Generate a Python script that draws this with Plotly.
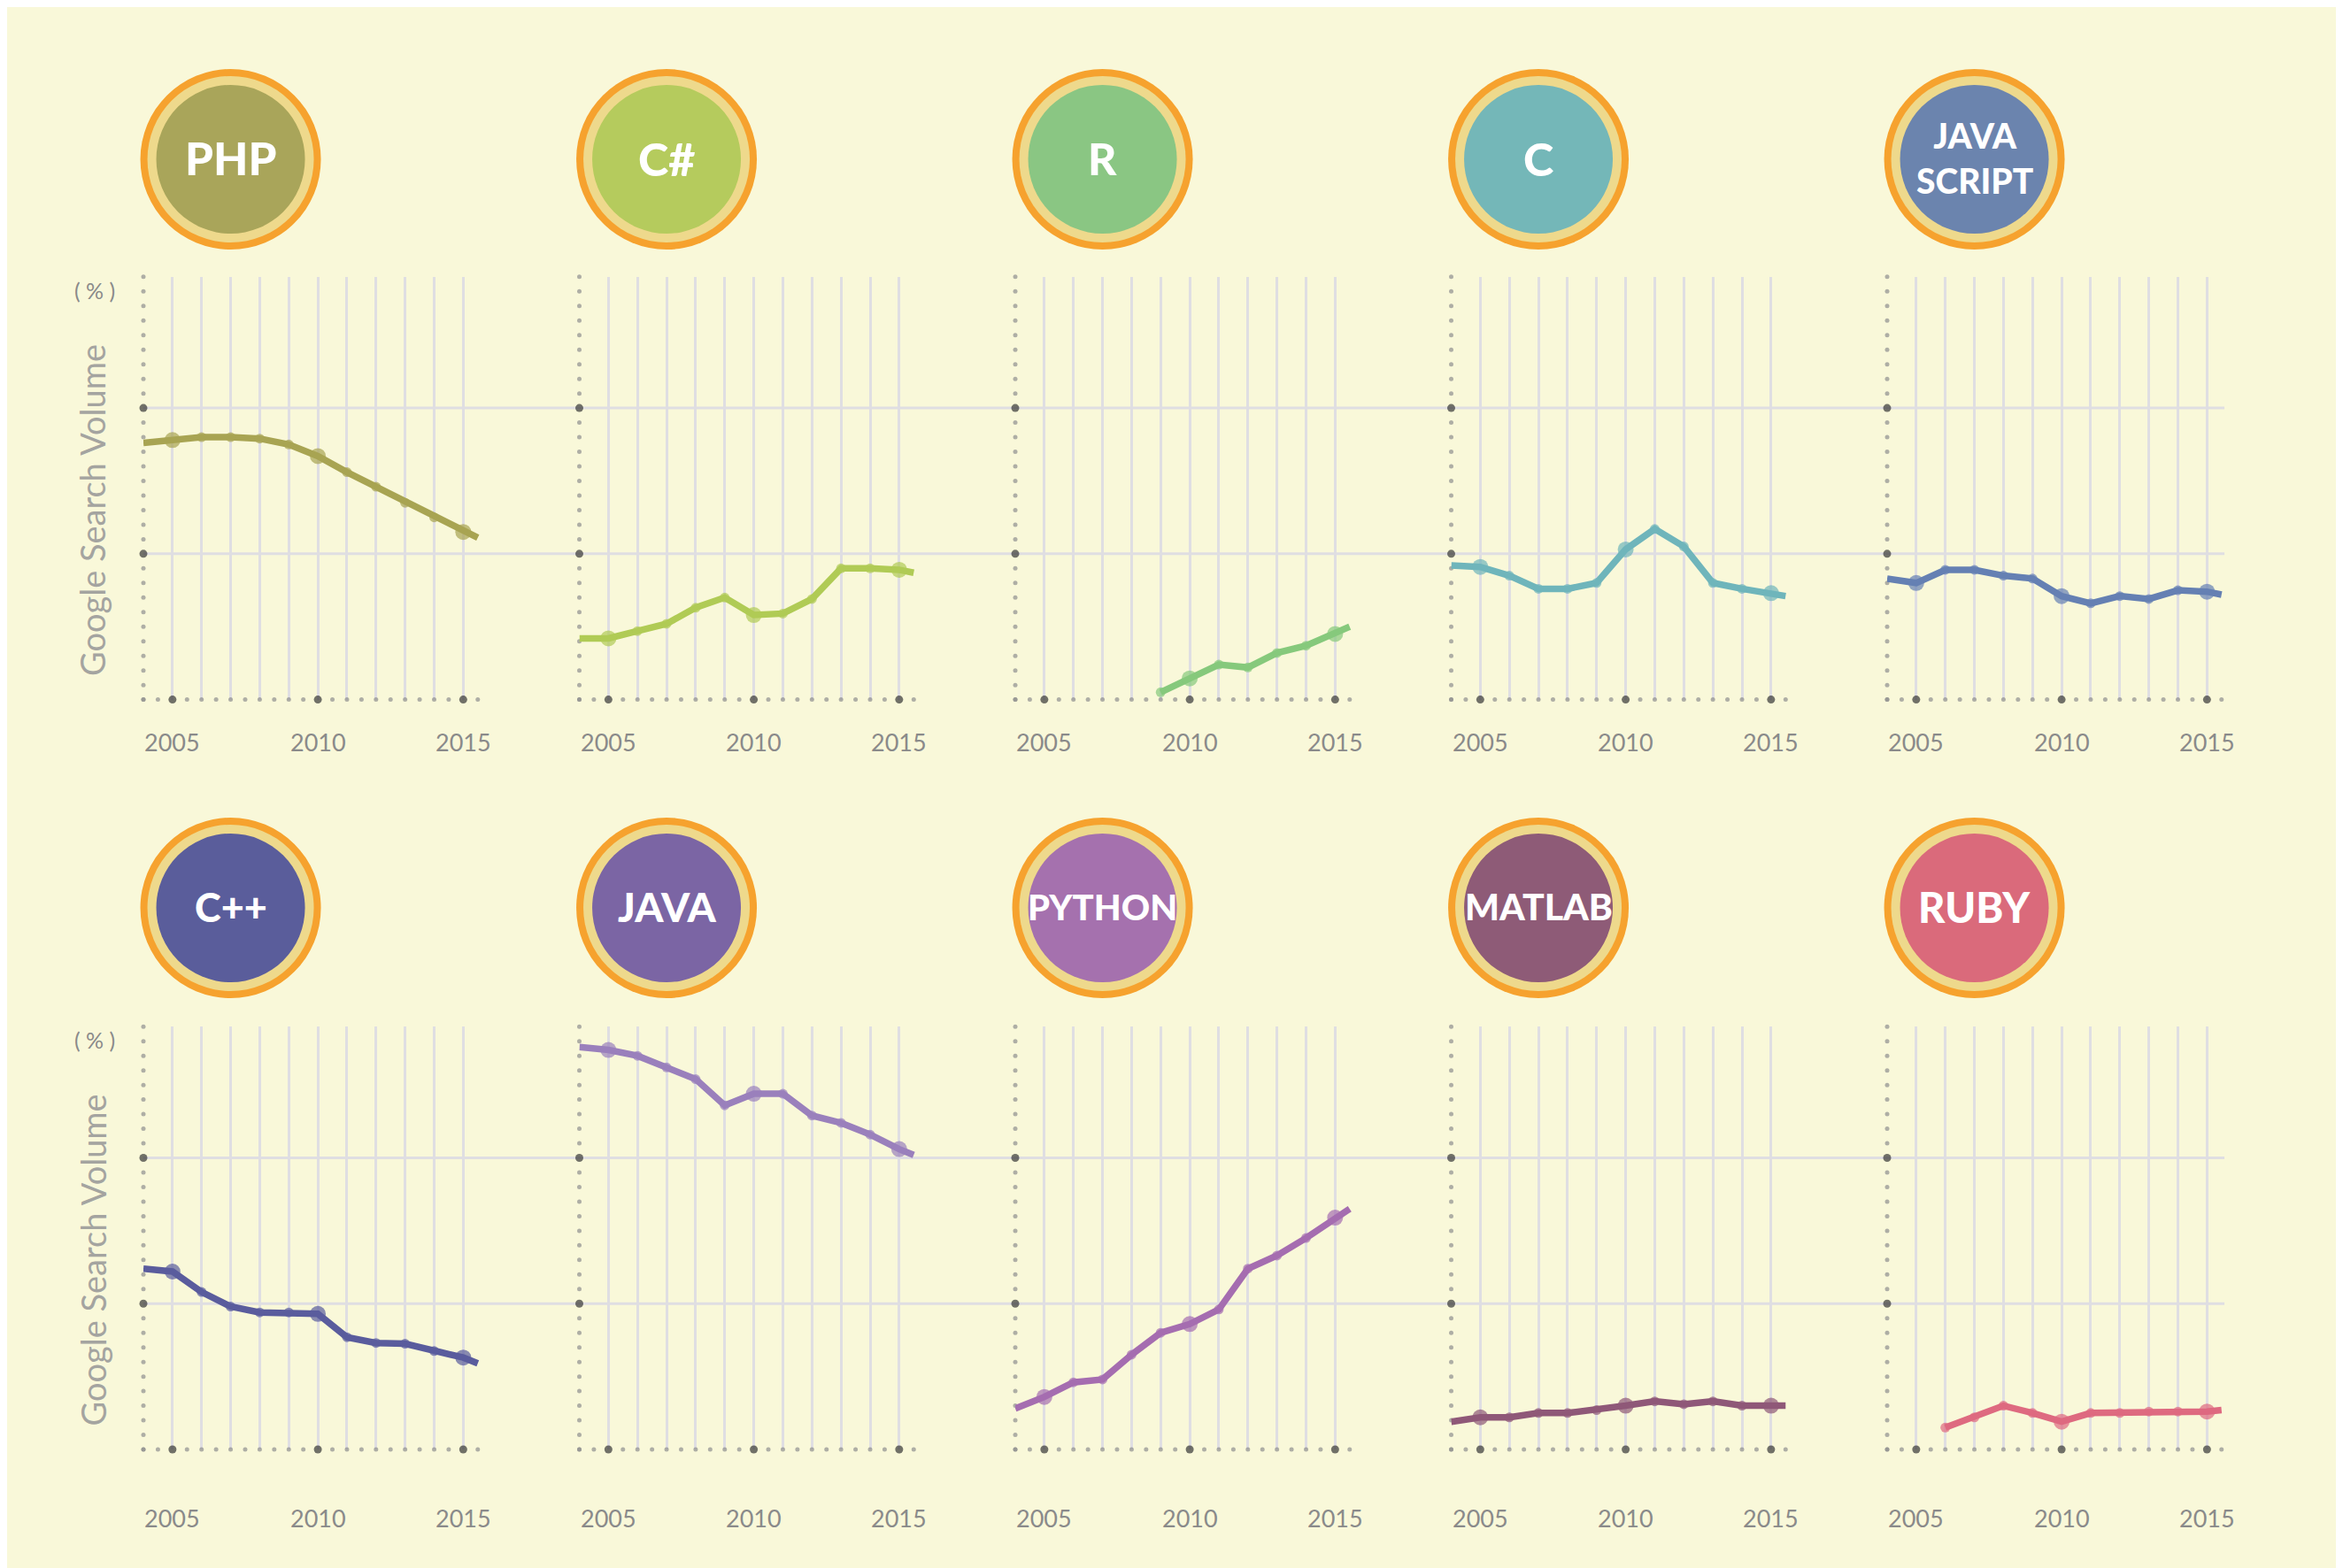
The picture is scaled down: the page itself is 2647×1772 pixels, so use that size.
import numpy as np
import plotly.graph_objects as go

# ---------------- data ----------------
YEARS = [2004, 2005, 2006, 2007, 2008, 2009, 2010, 2011, 2012, 2013, 2014, 2015, 2015.5]
LANGUAGES = ["PHP", "C#", "R", "C", "JAVASCRIPT", "C++", "JAVA", "PYTHON", "MATLAB", "RUBY"]

PHP = [17.6, 17.8, 18.0, 18.0, 17.9, 17.5, 16.7, 15.6, 14.6, 13.5, 12.5, 11.5, 11.1]
CSHARP = [4.2, 4.2, 4.7, 5.2, 6.3, 7.0, 5.8, 5.9, 6.9, 9.0, 9.0, 8.9, 8.7]
R_LANG = [None, None, None, None, None, 0.5, 1.45, 2.4, 2.2, 3.2, 3.7, 4.5, 5.0]
C_LANG = [9.2, 9.1, 8.5, 7.6, 7.6, 8.0, 10.3, 11.7, 10.5, 8.0, 7.6, 7.3, 7.1]
JAVASCRIPT = [8.3, 8.0, 8.9, 8.9, 8.5, 8.3, 7.1, 6.6, 7.1, 6.9, 7.5, 7.4, 7.2]
CPP = [12.4, 12.2, 10.8, 9.8, 9.4, 9.4, 9.3, 7.7, 7.3, 7.25, 6.75, 6.3, 5.9]
JAVA = [27.6, 27.4, 27.0, 26.2, 25.4, 23.6, 24.4, 24.4, 22.9, 22.4, 21.6, 20.6, 20.2]
PYTHON = [2.8, 3.6, 4.6, 4.8, 6.5, 8.0, 8.6, 9.6, 12.4, 13.3, 14.5, 15.9, 16.5]
MATLAB = [1.9, 2.2, 2.2, 2.5, 2.5, 2.7, 3.0, 3.3, 3.1, 3.3, 3.0, 3.0, 3.0]
RUBY = [None, None, 1.5, 2.2, 3.0, 2.5, 1.9, 2.5, 2.5, 2.6, 2.6, 2.6, 2.7]
SERIES = [PHP, CSHARP, R_LANG, C_LANG, JAVASCRIPT, CPP, JAVA, PYTHON, MATLAB, RUBY]

BADGE_TEXT = ["PHP", "C#", "R", "C", "JAVA<br>SCRIPT", "C++", "JAVA", "PYTHON", "MATLAB", "RUBY"]
TICK_YEARS = list(range(2005, 2016))
LABEL_YEARS = [2005, 2010, 2015]
GRID_VALUES = [10, 20]
Y_TITLE = "Google Search Volume"
Y_UNIT = "( % )"

# ---------------- styles / layout geometry ----------------
W, H = 2647, 1772
BG = "#F9F8D9"
GRID_COLOR = "#DFDEE2"
DOT_GRAY = "#8E8E8E"
DOT_DARK = "#363636"
LABEL_GRAY = "#8A8A8A"
TITLE_GRAY = "#A4A4A0"
RING_ORANGE = "#F6A22E"
RING_PALE = "#EED98C"
FILL_COLORS = ["#A9A55A", "#B5CB5D", "#8AC683", "#74B7B8", "#6B84AE",
               "#5A5D9B", "#7B65A4", "#A571AE", "#8E5B77", "#DA6A7B"]
LINE_COLORS = ["#A8A452", "#B0CB55", "#86C97C", "#6FB5BB", "#6580B3",
               "#5A5C9D", "#9A80BC", "#A56DB0", "#8F5878", "#DE6A80"]
BADGE_FONT = [51, 52, 50, 52, 39, 45, 46, 40, 41, 47]
FONT = "Lato, 'Open Sans', sans-serif"

OFF = 8.0  # page body margin added by the browser
AX_LEFT0 = 162.0 - OFF
COL_STEP = 492.5
PX_PER_YEAR = 32.85
ROW_BASE = [790.6 - OFF, 1638.0 - OFF]
PX_PER_UNIT = 16.475
X_RANGE = [2004, 2015.6]
Y_RANGE = [0, 29]
BADGE_CENTER_Y = [180 - OFF, 1026 - OFF]
BADGE_YEAR = 2007
R_OUT, R_MID, R_IN = 102, 94, 84
LABEL_Y = [838 - OFF, 1715 - OFF]
TITLE_X = 104 - OFF
UNIT_X = 107 - OFF


def fx(px):
    return px / W


def fy(py):
    return 1 - py / H


fig = go.Figure()
layout = {}
shapes = []
annotations = []

# continuous horizontal grid lines per row
for r in range(2):
    base = ROW_BASE[r]
    x_start = AX_LEFT0
    x_end = AX_LEFT0 + 4 * COL_STEP + (X_RANGE[1] - X_RANGE[0]) * PX_PER_YEAR
    for v in GRID_VALUES:
        ypx = base - v * PX_PER_UNIT
        shapes.append(dict(type="line", xref="paper", yref="paper", x0=fx(x_start), x1=fx(x_end),
                           y0=fy(ypx), y1=fy(ypx), line=dict(color=GRID_COLOR, width=3), layer="below"))

for i in range(10):
    r, c = divmod(i, 5)
    n = i + 1
    sx = "" if n == 1 else str(n)
    left = AX_LEFT0 + c * COL_STEP
    right = left + (X_RANGE[1] - X_RANGE[0]) * PX_PER_YEAR
    base = ROW_BASE[r]
    top = base - (Y_RANGE[1] - Y_RANGE[0]) * PX_PER_UNIT
    layout["xaxis" + sx] = dict(domain=[fx(left), fx(right)], range=X_RANGE, anchor="y" + sx,
                                tickmode="array", tickvals=TICK_YEARS, showticklabels=False, ticks="",
                                showgrid=True, gridcolor=GRID_COLOR, gridwidth=3, zeroline=False,
                                showline=False, fixedrange=True)
    layout["yaxis" + sx] = dict(domain=[fy(base), fy(top)], range=Y_RANGE, anchor="x" + sx,
                                showgrid=False, showticklabels=False, ticks="", zeroline=False,
                                showline=False, fixedrange=True)

    # dotted x axis
    xd = np.arange(X_RANGE[0], 2015.5 + 1e-9, 0.5)
    bigx = np.isin(xd, LABEL_YEARS)
    fig.add_trace(go.Scatter(x=xd, y=np.zeros_like(xd), mode="markers",
                             marker=dict(size=np.where(bigx, 9, 5).tolist(),
                                         color=np.where(bigx, DOT_DARK, DOT_GRAY).tolist(), line=dict(width=0)),
                             xaxis="x" + sx, yaxis="y" + sx, cliponaxis=False, hoverinfo="skip"))
    # dotted y axis
    yd = np.arange(Y_RANGE[0], Y_RANGE[1] + 1e-9, 1.0)
    bigy = np.isin(yd, GRID_VALUES)
    fig.add_trace(go.Scatter(x=np.full_like(yd, X_RANGE[0]), y=yd, mode="markers",
                             marker=dict(size=np.where(bigy, 9, 5).tolist(),
                                         color=np.where(bigy, DOT_DARK, DOT_GRAY).tolist(), line=dict(width=0)),
                             xaxis="x" + sx, yaxis="y" + sx, cliponaxis=False, hoverinfo="skip"))

    # data series
    sizes = []
    for yv in YEARS:
        if yv != int(yv) or yv == X_RANGE[0]:
            sizes.append(0)
        elif int(yv) in LABEL_YEARS:
            sizes.append(18)
        else:
            sizes.append(11)
    fig.add_trace(go.Scatter(x=YEARS, y=SERIES[i], mode="lines+markers", name=LANGUAGES[i],
                             line=dict(color=LINE_COLORS[i], width=7.5),
                             marker=dict(size=sizes, color=LINE_COLORS[i], line=dict(width=0)),
                             xaxis="x" + sx, yaxis="y" + sx, cliponaxis=False))

    # year labels
    for yr in LABEL_YEARS:
        annotations.append(dict(x=yr, xref="x" + sx, y=fy(LABEL_Y[r]), yref="paper",
                                text=str(yr), showarrow=False, xanchor="center", yanchor="middle",
                                font=dict(family=FONT, size=27, color=LABEL_GRAY)))

    # badge
    cx = left + (BADGE_YEAR - X_RANGE[0]) * PX_PER_YEAR
    cy = BADGE_CENTER_Y[r]
    for rad, col in [(R_OUT, RING_ORANGE), (R_MID, RING_PALE), (R_IN, FILL_COLORS[i])]:
        shapes.append(dict(type="circle", xref="paper", yref="paper",
                           x0=fx(cx - rad), x1=fx(cx + rad), y0=fy(cy + rad), y1=fy(cy - rad),
                           fillcolor=col, line=dict(width=0), layer="above"))
    annotations.append(dict(x=fx(cx), y=fy(cy - 1), xref="paper", yref="paper", text=BADGE_TEXT[i],
                            showarrow=False, xanchor="center", yanchor="middle", align="center",
                            font=dict(family=FONT, size=BADGE_FONT[i], color="white", weight=900)))

# y titles for the first column
for r in range(2):
    base = ROW_BASE[r]
    annotations.append(dict(x=fx(TITLE_X), y=fy(base - 213.5), xref="paper", yref="paper", text=Y_TITLE,
                            textangle=-90, showarrow=False, xanchor="center", yanchor="middle",
                            font=dict(family=FONT, size=38, color=TITLE_GRAY)))
    annotations.append(dict(x=fx(UNIT_X), y=fy(base - 463), xref="paper", yref="paper", text=Y_UNIT,
                            showarrow=False, xanchor="center", yanchor="middle",
                            font=dict(family=FONT, size=25, color=LABEL_GRAY)))

fig.update_layout(width=W, height=H, margin=dict(l=0, r=0, t=0, b=0),
                  paper_bgcolor=BG, plot_bgcolor="rgba(0,0,0,0)",
                  showlegend=False, hovermode=False, shapes=shapes, annotations=annotations, **layout)

fig.write_html("out.html")
